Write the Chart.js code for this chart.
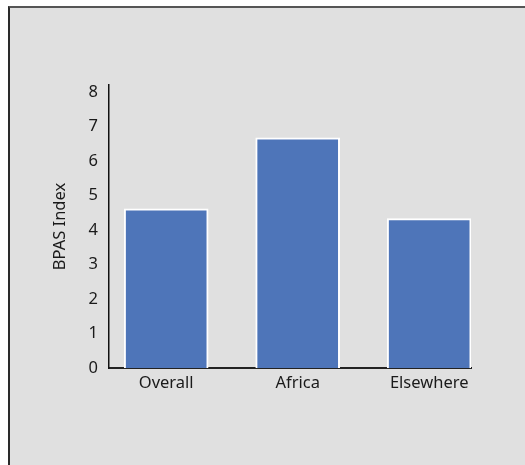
<!DOCTYPE html>
<html>
<head>
<meta charset="utf-8">
<script src="https://cdn.jsdelivr.net/npm/chart.js@4"></script>
<style>
  html, body { margin: 0; padding: 0; background: #fff; overflow: hidden; }
  #frame {
    position: absolute; left: 8px; top: 6px; width: 600px; height: 600px;
    background: #e0e0e0; border-top: 2px solid #555; border-left: 2px solid #2a2a2a;
  }
  #chart { position: absolute; left: 0; top: 0; }
</style>
</head>
<body>
<div id="frame"></div>
<canvas id="chart" width="525" height="465"></canvas>
<script>
// --- Data ---
const categories = ['Overall', 'Africa', 'Elsewhere'];
const bpasValues = [4.61, 6.67, 4.33];
const yTicks = [0, 1, 2, 3, 4, 5, 6, 7, 8];

const font = { family: 'Noto Sans', size: 16.5 };
const textColor = '#1a1a1a';

// bars sit on a linear axis, one unit per category
const points = categories.map((c, i) => ({ x: i, y: bpasValues[i] }));

new Chart(document.getElementById('chart'), {
  type: 'bar',
  data: {
    datasets: [{
      label: 'BPAS Index',
      data: points,
      backgroundColor: '#4e75b9',
      borderColor: '#ffffff',
      borderWidth: 2,
      barThickness: 84
    }]
  },
  options: {
    responsive: false,
    animation: false,
    layout: { padding: { left: 0, right: 54, top: 85, bottom: 0 } },
    plugins: { legend: { display: false }, tooltip: { enabled: false } },
    scales: {
      x: {
        type: 'linear',
        offset: false,
        min: -0.435,
        max: 2.318,
        grid: { display: false, drawTicks: false },
        border: { display: true, color: '#222', width: 2 },
        afterBuildTicks: s => { s.ticks = categories.map((c, i) => ({ value: i })); },
        afterFit: s => { s.height = 97; },
        ticks: {
          padding: 5,
          color: textColor,
          font: font,
          callback: v => categories[v]
        }
      },
      y: {
        min: 0,
        max: 8.2,
        grid: { display: false, drawTicks: false },
        border: { display: true, color: '#111', width: 1.5 },
        afterBuildTicks: s => { s.ticks = yTicks.map(v => ({ value: v })); },
        afterFit: s => { s.width = 109; },
        ticks: { padding: 11, color: textColor, font: font },
        title: {
          display: true,
          text: 'BPAS Index',
          color: textColor,
          font: font,
          padding: { top: 50, bottom: 0 }
        }
      }
    }
  }
});
</script>
</body>
</html>
